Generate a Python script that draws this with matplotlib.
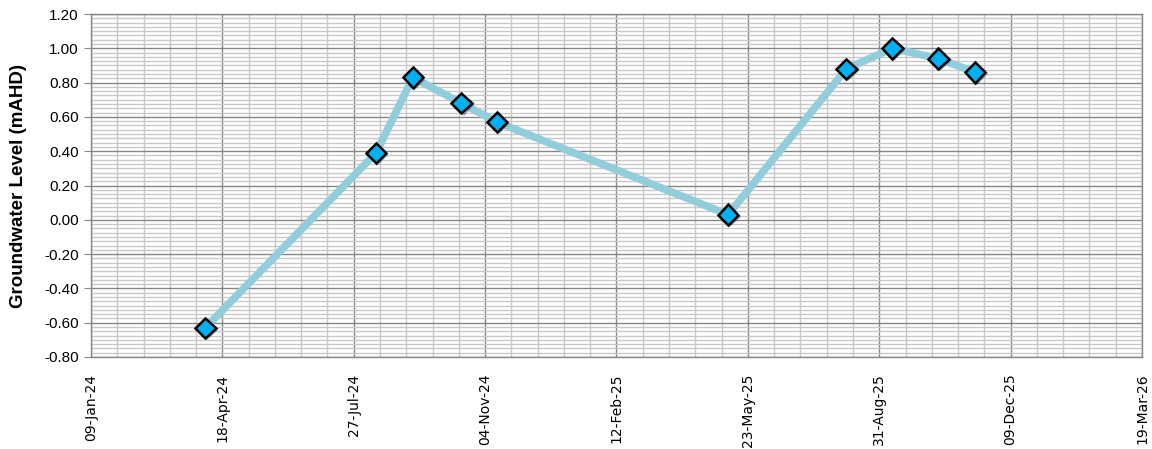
import matplotlib
matplotlib.use("Agg")
import matplotlib.pyplot as plt
import matplotlib.dates as mdates
import matplotlib.patheffects as pe
from matplotlib.ticker import MultipleLocator, FixedLocator
import numpy as np
import datetime as dt

dates = ["2024-04-05", "2024-08-13", "2024-09-10", "2024-10-17", "2024-11-13",
         "2025-05-08", "2025-08-06", "2025-09-10", "2025-10-15", "2025-11-12"]
levels = [-0.63, 0.39, 0.83, 0.68, 0.57, 0.03, 0.88, 1.00, 0.94, 0.86]

x_start = "2024-01-09"
x_end = "2026-03-19"
tick_step_days = 100
minor_step_days = 20

xd = [dt.datetime.strptime(d, "%Y-%m-%d") for d in dates]
xs = dt.datetime.strptime(x_start, "%Y-%m-%d")
xe = dt.datetime.strptime(x_end, "%Y-%m-%d")

fig = plt.figure(figsize=(11.52, 4.49), dpi=100)
ax = fig.add_axes([0.079, 0.2049, 0.9913 - 0.079, 0.9688 - 0.2049])

s0, s1 = mdates.date2num(xs), mdates.date2num(xe)
ax.set_xlim(s0, s1)
ax.set_ylim(-0.8, 1.2)
ax.xaxis.set_major_locator(FixedLocator(np.arange(s0, s1 + 1, tick_step_days)))
ax.xaxis.set_minor_locator(FixedLocator(np.arange(s0, s1 + 1, minor_step_days)))
ax.xaxis.set_major_formatter(mdates.DateFormatter("%d-%b-%y"))
ax.yaxis.set_major_locator(MultipleLocator(0.2))
ax.yaxis.set_minor_locator(MultipleLocator(0.025))
ax.yaxis.set_major_formatter(matplotlib.ticker.FuncFormatter(lambda v, p: f"{v:.2f}"))

ax.grid(which="minor", color="#c8c8c8", linewidth=1.0)
ax.grid(which="major", color="#868686", linewidth=1.0)
ax.set_axisbelow(True)
for s in ax.spines.values():
    s.set_color("#868686")
    s.set_linewidth(1.0)

ax.tick_params(axis="x", which="both", length=0, pad=12, labelsize=10, rotation=90)
ax.tick_params(axis="y", which="major", length=5, color="#868686", labelsize=11, pad=4)
ax.tick_params(axis="y", which="minor", length=0)
for lab in ax.get_yticklabels():
    lab.set_family("Liberation Sans")

ax.plot(xd, levels, color="#92CDDC", linewidth=5.5, solid_capstyle="round", zorder=3)
ax.plot(xd, levels, linestyle="none", marker="D", markersize=10.5,
        markerfacecolor="#00B0F0", markeredgecolor="black", markeredgewidth=1.8, zorder=4,
        path_effects=[pe.SimplePatchShadow(offset=(1.5, -1.5), alpha=0.4), pe.Normal()])

ax.set_ylabel("Groundwater Level (mAHD)", fontsize=13.5, fontweight="bold",
              family="Liberation Sans", labelpad=12)

fig.savefig("out.png", dpi=100)
